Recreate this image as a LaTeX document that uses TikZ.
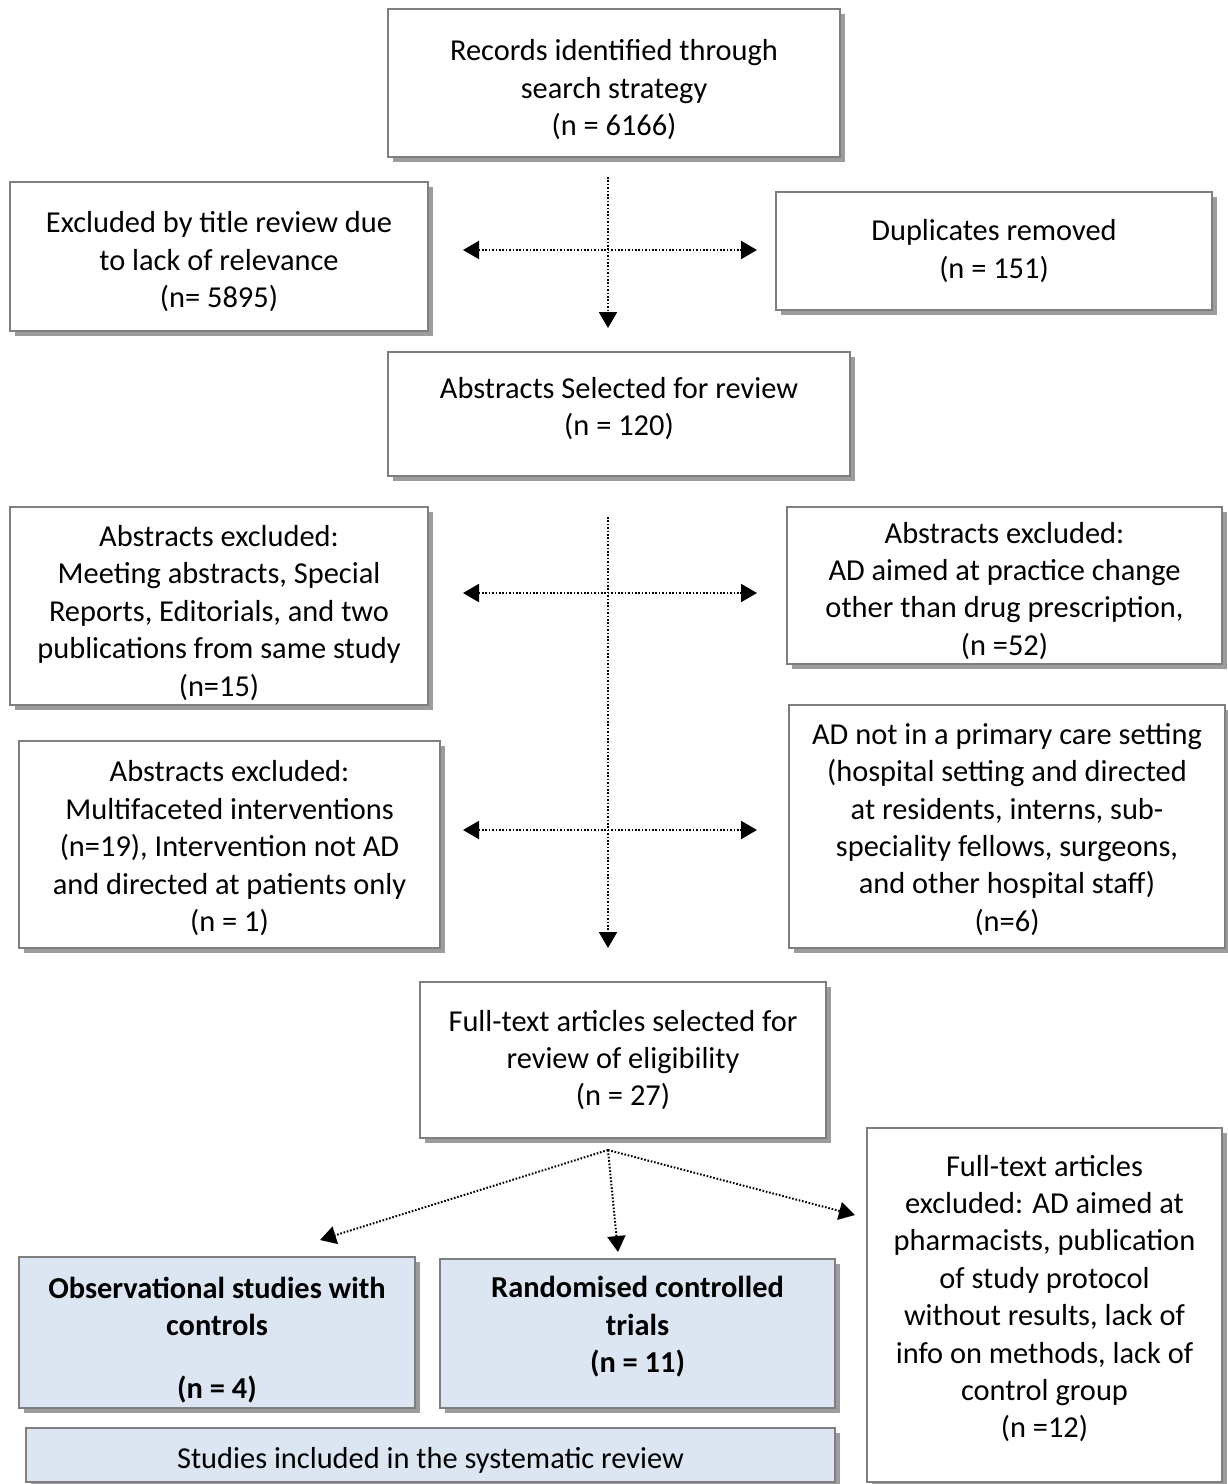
\documentclass[tikz,border=0pt]{standalone}
\usepackage{fontspec}
\setmainfont{Carlito}
\usetikzlibrary{shadows,arrows.meta}
\definecolor{boxline}{HTML}{7F7F7F}
\definecolor{boxshade}{HTML}{9C9C9C}
\definecolor{inclfill}{HTML}{DCE6F2}
% strut on the first line, pushes the text block down
\newcommand{\topgap}[1]{\rule{0pt}{#1}}
\tikzset{
  flowbox/.style={draw=boxline,line width=.6pt,fill=white,align=center,inner sep=0pt,
    drop shadow={shadow xshift=2.5pt,shadow yshift=-2.5pt,fill=boxshade,opacity=1}},
  inclbox/.style={flowbox,fill=inclfill,font=\fontsize{15.2}{18.7}\selectfont\bfseries},
  textup/.style={execute at end node={\rule[-#1]{0pt}{0pt}}},
  flowarrow/.style={line width=1pt,dash pattern=on .8pt off .9pt,-{Triangle[length=8pt,width=9pt]}},
  twoarrow/.style={flowarrow,{Triangle[length=8pt,width=9pt]}-{Triangle[length=8pt,width=9pt]}},
}
\begin{document}
\begin{tikzpicture}[x=.5pt,y=-.5pt,font=\fontsize{15.2}{18.7}\selectfont]
  \useasboundingbox (0,0) rectangle (1227,1484);
  % identification
  \node[flowbox,minimum width=226pt,minimum height=74pt] (records) at (614,83)
    {\topgap{17.3pt}Records identified through\\search strategy\\(n = 6166)};
  \node[flowbox,minimum width=209pt,minimum height=74.5pt] (titleexcl) at (219,256.5)
    {\topgap{15.8pt}Excluded by title review due\\to lack of relevance\\(n= 5895)};
  \node[flowbox,minimum width=218pt,minimum height=59pt] (duplicates) at (994,251)
    {Duplicates removed\\(n = 151)};
  % screening
  \node[flowbox,textup=7.5pt,minimum width=231pt,minimum height=62pt] (abstracts) at (619,414)
    {Abstracts Selected for review\\(n = 120)};
  \node[flowbox,minimum width=209pt,minimum height=99pt] (absexclA) at (219,606)
    {\topgap{17.3pt}Abstracts excluded:\\Meeting abstracts, Special\\Reports, Editorials, and two\\publications from same study\\(n=15)};
  \node[flowbox,minimum width=217.5pt,minimum height=78.5pt] (absexclB) at (1004.5,585.5)
    {\topgap{15.8pt}Abstracts excluded:\\AD aimed at practice change\\other than drug prescription,\\(n =52)};
  \node[flowbox,minimum width=210.5pt,minimum height=103.5pt] (absexclC) at (229.5,844.5)
    {\topgap{14.3pt}Abstracts excluded:\\Multifaceted interventions\\(n=19), Intervention not AD\\and directed at patients only\\(n = 1)};
  \node[flowbox,minimum width=218pt,minimum height=121.5pt] (absexclD) at (1007,826.5)
    {\topgap{13.3pt}AD not in a primary care setting\\(hospital setting and directed\\at residents, interns, sub-\\speciality fellows, surgeons,\\and other hospital staff)\\(n=6)};
  % eligibility
  \node[flowbox,minimum width=203pt,minimum height=78pt] (fulltext) at (623,1060)
    {Full-text articles selected for\\review of eligibility\\(n = 27)};
  \node[flowbox,textup=8.5pt,minimum width=177.5pt,minimum height=177pt] (fullexcl) at (1044.5,1305)
    {Full-text articles\\excluded: AD aimed at\\pharmacists, publication\\of study protocol\\without results, lack of\\info on methods, lack of\\control group\\(n =12)};
  % included
  \node[inclbox,minimum width=198pt,minimum height=75.5pt] (observ) at (217,1332.5)
    {\topgap{18.4pt}Observational studies with\\controls\\[12.7pt](n = 4)};
  \node[inclbox,textup=9pt,minimum width=197.5pt,minimum height=74.5pt] (rct) at (637.5,1333.5)
    {Randomised controlled\\trials\\(n = 11)};
  \node[flowbox,fill=inclfill,minimum width=404.5pt,minimum height=27pt] (included) at (430.5,1455)
    {\topgap{16.3pt}Studies included in the systematic review};
  % connectors
  \coordinate (spineA) at (608,177);
  \coordinate (spineAend) at (608,328);
  \coordinate (spineB) at (608,517);
  \coordinate (spineBend) at (608,948);
  \draw[flowarrow] (spineA) -- (spineAend);
  \draw[flowarrow] (spineB) -- (spineBend);
  \foreach \y/\lname/\rname in {250/titleL/titleR,593/absL/absR,830/multL/multR} {
    \coordinate (\lname) at (463,\y);
    \coordinate (\rname) at (757,\y);
    \draw[twoarrow] (\lname) -- (\rname);
  }
  \coordinate (fork) at (608,1150);
  \coordinate (toobserv) at (320,1240);
  \coordinate (torct) at (618,1252);
  \coordinate (toexcl) at (855,1215);
  \foreach \tip in {toobserv,torct,toexcl}
    \draw[flowarrow] (fork) -- (\tip);
\end{tikzpicture}
\end{document}
